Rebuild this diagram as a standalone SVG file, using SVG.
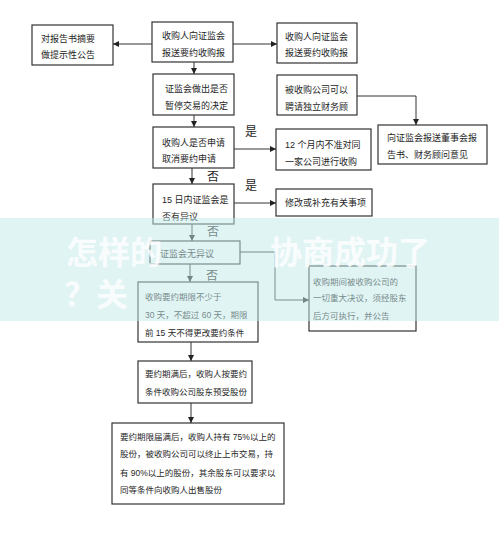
<svg xmlns="http://www.w3.org/2000/svg" width="499" height="540" viewBox="0 0 499 540">
<style>
.box{fill:#fff;stroke:#333;stroke-width:1.2}
.t{font-family:"Liberation Sans","Noto Sans CJK SC",sans-serif;font-size:9px;fill:#262626;dominant-baseline:central}
.s{font-size:8.5px}
.lb{font-family:"Liberation Sans","Noto Sans CJK SC",sans-serif;font-size:12px;fill:#262626;dominant-baseline:central}
.c{fill:none;stroke:#333;stroke-width:1}
.wm{font-family:"Noto Sans CJK SC",sans-serif;font-size:32px;font-weight:bold;fill:#fff;opacity:0.8;dominant-baseline:central}
</style>
<defs>
<marker id="ah" markerUnits="userSpaceOnUse" markerWidth="6" markerHeight="6" refX="6" refY="3" orient="auto">
<path d="M0,0 L6,3 L0,6 z" fill="#222"/>
</marker>
</defs>
<rect width="499" height="540" fill="#fff"/>
<g id="connectors">
<line class="c" x1="152" y1="44" x2="113" y2="44" marker-end="url(#ah)"/>
<line class="c" x1="233" y1="44" x2="277" y2="44" marker-end="url(#ah)"/>
<line class="c" x1="194" y1="62" x2="194" y2="74" marker-end="url(#ah)"/>
<line class="c" x1="194" y1="115" x2="194" y2="127" marker-end="url(#ah)"/>
<polyline class="c" points="357,96 416,96 416,125" marker-end="url(#ah)"/>
<line class="c" x1="234" y1="149" x2="276" y2="149" marker-end="url(#ah)"/>
<line class="c" x1="192" y1="168" x2="192" y2="184" marker-end="url(#ah)"/>
<line class="c" x1="234" y1="203" x2="276" y2="203" marker-end="url(#ah)"/>
<line class="c" x1="192" y1="224" x2="192" y2="241" marker-end="url(#ah)"/>
<line class="c" x1="190" y1="264" x2="190" y2="282" marker-end="url(#ah)"/>
<polyline class="c" points="240,252 275,252 275,300 309,300" marker-end="url(#ah)"/>
<line class="c" x1="191" y1="342" x2="191" y2="361" marker-end="url(#ah)"/>
<line class="c" x1="191" y1="403" x2="191" y2="423" marker-end="url(#ah)"/>
<text class="lb" x="245" y="132">是</text>
<text class="lb" x="245" y="186">是</text>
<text class="lb" x="207" y="177">否</text>
<text class="lb" x="207" y="232">否</text>
<text class="lb" x="206" y="276">否</text>
</g>
<g id="nodeA"><rect class="box" x="32" y="25" width="81" height="40"/>
<text class="t" x="41" y="39">对报告书摘要</text><text class="t" x="41" y="55">做提示性公告</text></g>
<g id="nodeB"><rect class="box" x="152" y="22" width="81" height="40"/>
<text class="t" x="162" y="36">收购人向证监会</text><text class="t" x="162" y="53">报送要约收购报</text></g>
<g id="nodeE"><rect class="box" x="277" y="23" width="80" height="40"/>
<text class="t" x="285" y="37">收购人向证监会</text><text class="t" x="285" y="53">报送要约收购报</text></g>
<g id="nodeC"><rect class="box" x="153" y="74" width="81" height="41"/>
<text class="t" x="165" y="89">证监会做出是否</text><text class="t" x="165" y="106">暂停交易的决定</text></g>
<g id="nodeF"><rect class="box" x="277" y="75" width="80" height="40"/>
<text class="t" x="285" y="90">被收购公司可以</text><text class="t" x="285" y="107">聘请独立财务顾</text></g>
<g id="nodeG"><rect class="box" x="378" y="125" width="109" height="39"/>
<text class="t" x="387" y="138">向证监会报送董事会报</text><text class="t" x="387" y="155">告书、财务顾问意见</text></g>
<g id="nodeD"><rect class="box" x="153" y="127" width="81" height="41"/>
<text class="t" x="162" y="143">收购人是否申请</text><text class="t" x="162" y="159">取消要约申请</text></g>
<g id="nodeI"><rect class="box" x="276" y="129" width="95" height="41"/>
<text class="t" x="285" y="145">12 个月内不准对同</text><text class="t" x="285" y="162">一家公司进行收购</text></g>
<g id="nodeH"><rect class="box" x="153" y="184" width="81" height="40"/>
<text class="t" x="162" y="200">15 日内证监会是</text><text class="t" x="162" y="217">否有异议</text></g>
<g id="nodeJ"><rect class="box" x="276" y="189" width="96" height="27"/>
<text class="t" x="285" y="203">修改或补充有关事项</text></g>
<g id="nodeK"><rect class="box" x="150" y="241" width="90" height="23"/>
<text class="t" x="160" y="254">证监会无异议</text></g>
<g id="nodeL"><rect class="box" x="138" y="282" width="120" height="60"/>
<text class="t s" x="145" y="297">收购要约期限不少于</text><text class="t s" x="145" y="315">30 天，不超过 60 天，期限</text><text class="t s" x="145" y="333">前 15 天不得更改要约条件</text></g>
<g id="nodeM"><rect class="box" x="309" y="266" width="107" height="65"/>
<text class="t s" x="313" y="282">收购期间被收购公司的</text><text class="t s" x="313" y="298">一切重大决议，须经股东</text><text class="t s" x="313" y="316">后方可执行，并公告</text></g>
<g id="nodeN"><rect class="box" x="138" y="361" width="114" height="42"/>
<text class="t s" x="145" y="374">要约期满后，收购人按要约</text><text class="t s" x="145" y="392">条件收购公司股东预受股份</text></g>
<g id="nodeO"><rect class="box" x="112" y="423" width="172" height="81"/>
<text class="t s" x="120" y="437">要约期限届满后，收购人持有 75%以上的</text>
<text class="t s" x="120" y="454">股份，被收购公司可以终止上市交易，持</text>
<text class="t s" x="120" y="473">有 90%以上的股份，其余股东可以要求以</text>
<text class="t s" x="120" y="490">同等条件向收购人出售股份</text></g>
<g id="watermark">
<rect x="0" y="218" width="499" height="103" fill="#c4eaea" opacity="0.5"/>
<text class="wm" x="66" y="250">怎样的</text>
<text class="wm" x="270" y="250">协商成功了</text>
<text class="wm" x="64" y="292">？关</text>
</g>
</svg>
